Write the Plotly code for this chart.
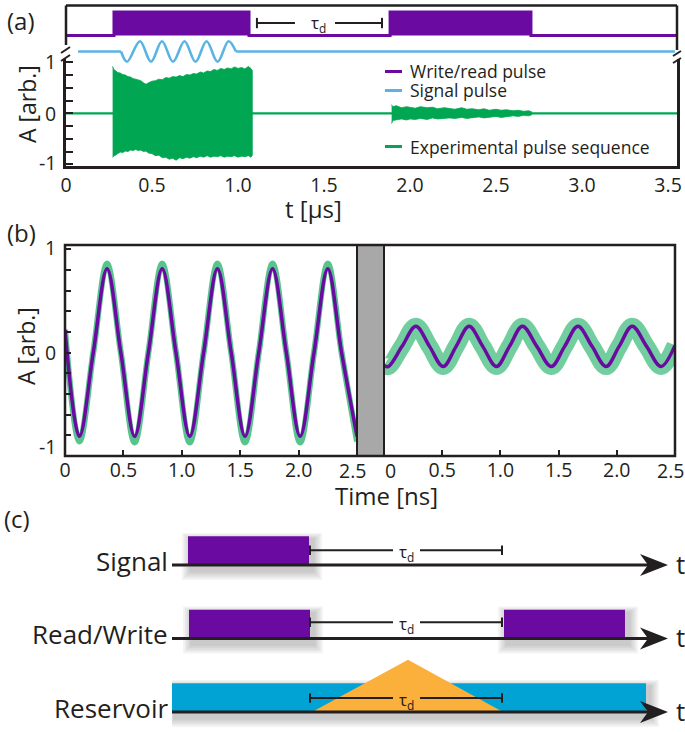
import plotly.graph_objects as go

W, H = 685, 732
FONT = "Open Sans"
INK = "#231f20"
PURPLE = "#6a0aa0"
GREEN = "#00a651"
SKY = "#5ab4e3"
CYAN = "#00a3d3"
ORANGE = "#fbb03b"
GREY = "#a8a8a8"


def px(x):
    return x / W


def py(y):
    return 1 - y / H


# ---------------- (a) data ----------------
wr_t = [0.0, 0.279, 1.064, 1.884, 2.703, 3.552]
wr_level = [0, 1, 0, 1, 0, 0]

sig_lead_t = [0.07, 0.320]
sig_lead_A = [0, 0]
sig_osc_t = [0.320, 0.355, 0.430, 0.494, 0.558, 0.622, 0.689, 0.753, 0.817, 0.881, 0.945, 0.988]
sig_osc_A = [0, -1, 1, -1, 1, -1, 1, -1, 1, -1, 1, 0]
sig_tail_t = [0.988, 3.54]
sig_tail_A = [0, 0]

base_t = [0.0, 3.552]
base_A = [0.0, 0.0]

burst1_t = [0.271, 0.278, 0.29, 0.30, 0.315, 0.33, 0.345, 0.36, 0.375, 0.39, 0.405, 0.42, 0.435, 0.45,
            0.465, 0.48, 0.50, 0.52, 0.54, 0.56, 0.58, 0.60, 0.62, 0.64, 0.66, 0.68, 0.70, 0.72,
            0.74, 0.76, 0.78, 0.80, 0.82, 0.84, 0.86, 0.88, 0.90, 0.92, 0.94, 0.96, 0.98, 1.00,
            1.02, 1.04, 1.06, 1.075, 1.083]
burst1_up = [0.92, 0.86, 0.83, 0.80, 0.79, 0.76, 0.75, 0.72, 0.71, 0.68, 0.67, 0.65, 0.64, 0.60,
             0.57, 0.60, 0.63, 0.64, 0.67, 0.66, 0.70, 0.69, 0.72, 0.71, 0.74, 0.72, 0.76, 0.75,
             0.78, 0.77, 0.81, 0.79, 0.83, 0.82, 0.86, 0.84, 0.88, 0.86, 0.89, 0.87, 0.91, 0.88,
             0.90, 0.87, 0.92, 0.88, 0.84]
burst1_lo = [-0.86, -0.84, -0.80, -0.79, -0.76, -0.77, -0.74, -0.75, -0.72, -0.73, -0.71, -0.73, -0.72,
             -0.75, -0.74, -0.78, -0.79, -0.83, -0.82, -0.87, -0.86, -0.90, -0.88, -0.92, -0.87,
             -0.89, -0.86, -0.88, -0.85, -0.87, -0.84, -0.86, -0.83, -0.86, -0.84, -0.85, -0.83,
             -0.86, -0.84, -0.85, -0.83, -0.86, -0.84, -0.85, -0.83, -0.86, -0.82]

burst2_t = [1.893, 1.90, 1.92, 1.95, 1.98, 2.0, 2.03, 2.06, 2.1, 2.13, 2.16, 2.2, 2.23, 2.26, 2.3,
            2.33, 2.36, 2.4, 2.43, 2.46, 2.5, 2.53, 2.56, 2.6, 2.63, 2.66, 2.69, 2.707]
burst2_up = [0.17, 0.13, 0.15, 0.11, 0.13, 0.12, 0.10, 0.13, 0.11, 0.12, 0.09, 0.11, 0.10, 0.08,
             0.11, 0.08, 0.09, 0.07, 0.09, 0.06, 0.08, 0.06, 0.07, 0.05, 0.06, 0.04, 0.05, 0.03]
burst2_lo = [-0.20, -0.14, -0.13, -0.11, -0.13, -0.11, -0.12, -0.10, -0.12, -0.09, -0.11, -0.10,
             -0.09, -0.10, -0.08, -0.10, -0.08, -0.07, -0.09, -0.07, -0.06, -0.08, -0.06, -0.05,
             -0.06, -0.04, -0.05, -0.03]

tau_a_span = [1.110, 1.837]
tau_a_gap = [1.331, 1.564]

a_xticks = [0, 0.5, 1.0, 1.5, 2.0, 2.5, 3.0, 3.5]
a_xticktext = ["0", "0.5", "1.0", "1.5", "2.0", "2.5", "3.0", "3.5"]
a_yticks = [-1, -0.75, -0.5, -0.25, 0, 0.25, 0.5, 0.75, 1]
a_ylabels = ["1", "0", "-1"]

# ---------------- (b) data ----------------
fit1_t = [0.0, 0.123, 0.242, 0.360, 0.478, 0.596, 0.714, 0.832, 0.950, 1.068, 1.187, 1.305,
          1.423, 1.541, 1.659, 1.777, 1.895, 2.013, 2.132, 2.250, 2.368, 2.5]
fit1_A = [0.22, -0.81, 0, 0.81, 0, -0.81, 0, 0.81, 0, -0.81, 0, 0.81,
          0, -0.81, 0, 0.81, 0, -0.81, 0, 0.81, 0, -0.81]
meas1_A = [0.22, -0.86, 0, 0.86, 0, -0.87, 0, 0.86, 0, -0.87, 0, 0.86,
           0, -0.87, 0, 0.86, 0, -0.87, 0, 0.86, 0, -0.86]

fit2_t = [0.0, 0.037, 0.155, 0.274, 0.391, 0.508, 0.620, 0.731, 0.848, 0.966, 1.078, 1.189,
          1.313, 1.437, 1.552, 1.666, 1.787, 1.908, 2.020, 2.132, 2.256, 2.380, 2.5]
fit2_A = [-0.125, -0.135, 0.06, 0.255, 0.06, -0.135, 0.06, 0.255, 0.06, -0.135, 0.06, 0.255,
          0.06, -0.135, 0.06, 0.255, 0.06, -0.135, 0.06, 0.255, 0.06, -0.135, 0.07]

b_xticks = [0, 0.5, 1.0, 1.5, 2.0, 2.5]
b_xticktext = ["0", "0.5", "1.0", "1.5", "2.0", "2.5"]
b_yticks = [-1, -0.8, -0.6, -0.4, -0.2, 0, 0.2, 0.4, 0.6, 0.8, 1]
b_ylabels = ["1", "0", "-1"]

# ---------------- (c) data ----------------
row_labels = ["Signal", "Read/Write", "Reservoir"]
row_y = [2, 1, 0]
signal_pulses = [(0.16, 1.37)]
rw_pulses = [(0.17, 1.38), (3.32, 4.53)]
reservoir_span = (0.0, 4.74)
tri_x = [1.40, 2.36, 3.31]
tri_y = [0.0, 0.71, 0.0]
tau_span = (1.38, 3.30)
tau_gap = (2.21, 2.48)
tau_level = [0.20, 0.22, 0.19]
pulse_h = 0.39
axis_end = 4.96

# schematic axis geometry (reference pixels)
C_X0, C_X1 = 172, 668
C_Y0, C_Y1 = 520, 730
C_XRANGE = [0, 4.96]
C_YRANGE = [-0.245, 2.612]


def cx(v):
    return px(C_X0 + (v - C_XRANGE[0]) / (C_XRANGE[1] - C_XRANGE[0]) * (C_X1 - C_X0))


def cy(v):
    return py(C_Y1 - (v - C_YRANGE[0]) / (C_YRANGE[1] - C_YRANGE[0]) * (C_Y1 - C_Y0))


fig = go.Figure()

# ---- (a) traces ----
fig.add_trace(go.Scatter(x=base_t, y=base_A, xaxis="x", yaxis="y", mode="lines",
                         line=dict(color=GREEN, width=2.2), hoverinfo="skip"))
for bt, bu, bl in [(burst1_t, burst1_up, burst1_lo), (burst2_t, burst2_up, burst2_lo)]:
    fig.add_trace(go.Scatter(x=bt + bt[::-1], y=bu + bl[::-1], xaxis="x", yaxis="y",
                             mode="lines", fill="toself", fillcolor=GREEN,
                             line=dict(color=GREEN, width=0.8), hoverinfo="skip"))
fig.add_trace(go.Scatter(x=wr_t, y=wr_level, xaxis="x", yaxis="y2", mode="lines",
                         line=dict(color=PURPLE, width=3, shape="hv"), fill="tozeroy",
                         fillcolor=PURPLE, hoverinfo="skip"))
for st, sa, shp in [(sig_lead_t, sig_lead_A, "linear"), (sig_osc_t, sig_osc_A, "spline"),
                    (sig_tail_t, sig_tail_A, "linear")]:
    fig.add_trace(go.Scatter(x=st, y=sa, xaxis="x", yaxis="y3", mode="lines",
                             line=dict(color=SKY, width=2.6, shape=shp), hoverinfo="skip"))

# ---- (b) traces ----
fig.add_trace(go.Scatter(x=fit1_t, y=meas1_A, xaxis="x2", yaxis="y4", mode="lines",
                         line=dict(color=GREEN, width=6, shape="spline"), opacity=0.65, hoverinfo="skip"))
fig.add_trace(go.Scatter(x=fit1_t, y=fit1_A, xaxis="x2", yaxis="y4", mode="lines",
                         line=dict(color=PURPLE, width=3.5, shape="spline"), hoverinfo="skip"))
fig.add_trace(go.Scatter(x=fit2_t, y=fit2_A, xaxis="x3", yaxis="y5", mode="lines",
                         line=dict(color=GREEN, width=17, shape="spline"), opacity=0.55, hoverinfo="skip"))
fig.add_trace(go.Scatter(x=fit2_t, y=fit2_A, xaxis="x3", yaxis="y5", mode="lines",
                         line=dict(color=PURPLE, width=3.5, shape="spline"), hoverinfo="skip"))

# ---- (c) row time axes ----
for r in row_y:
    fig.add_trace(go.Scatter(x=[0, axis_end - 0.18], y=[r, r], xaxis="x4", yaxis="y6", mode="lines",
                             line=dict(color=INK, width=3), hoverinfo="skip"))

shapes = []
LW = 2.5


def pline(x0, y0, x1, y1, w=LW):
    shapes.append(dict(type="line", xref="paper", yref="paper", x0=px(x0), y0=py(y0),
                       x1=px(x1), y1=py(y1), line=dict(color=INK, width=w)))


# (a) frame of the pulse diagram + axis breaks
TOP = 5.5
pline(66, TOP, 677, TOP)
pline(66, TOP, 66, 45)
pline(677, TOP, 677, 50)
pline(61, 53, 70, 47, 2)
pline(61, 61, 70, 55, 2)
pline(673, 56, 681, 51, 2)
pline(673, 63, 681, 58, 2)

# (a) tau_d bracket in data coordinates
tau_y = 0.53
for x0, x1 in [(tau_a_span[0], tau_a_gap[0]), (tau_a_gap[1], tau_a_span[1])]:
    shapes.append(dict(type="line", xref="x", yref="y2", x0=x0, x1=x1, y0=tau_y, y1=tau_y,
                       line=dict(color=INK, width=2)))
for xe in tau_a_span:
    shapes.append(dict(type="line", xref="x", yref="y2", x0=xe, x1=xe, y0=tau_y - 0.22, y1=tau_y + 0.22,
                       line=dict(color=INK, width=2)))

# (a) legend keys
for yk, col in [(71.5, PURPLE), (90.5, SKY), (146.5, GREEN)]:
    pline(385, yk, 402, yk, 3)
    shapes[-1]["line"]["color"] = col

# (b) frame and gap bar
shapes.append(dict(type="rect", xref="paper", yref="paper", x0=px(357), x1=px(384), y0=py(456), y1=py(245),
                   fillcolor=GREY, line=dict(color=INK, width=2)))
shapes.append(dict(type="rect", xref="paper", yref="paper", x0=px(65), x1=px(675), y0=py(456), y1=py(245),
                   line=dict(color=INK, width=LW)))

# (c) schematic
XS = 0.01          # x units per pixel
YS = 1 / 73.5      # y units per pixel


def shadow(x0, x1, y0, y1):
    for k in range(1, 6):
        e = k * 1.8
        shapes.append(dict(type="rect", xref="x4", yref="y6", layer="below",
                           x0=x0 + 3 * XS - e * XS, x1=x1 + 4 * XS + e * XS,
                           y0=y0 - 6 * YS - e * YS, y1=y1 - 3 * YS + e * YS * 0.7,
                           fillcolor="rgba(0,0,0,0.045)", line=dict(width=0)))


def rect(x0, x1, y0, y1, col):
    shapes.append(dict(type="rect", xref="x4", yref="y6", layer="below", x0=x0, x1=x1, y0=y0, y1=y1,
                       fillcolor=col, line=dict(width=0)))


for (a0, a1) in signal_pulses:
    shadow(a0, a1, row_y[0], row_y[0] + pulse_h)
for (a0, a1) in rw_pulses:
    shadow(a0, a1, row_y[1], row_y[1] + pulse_h)
shadow(reservoir_span[0], reservoir_span[1], row_y[2], row_y[2] + pulse_h)

for (a0, a1) in signal_pulses:
    rect(a0, a1, row_y[0], row_y[0] + pulse_h, PURPLE)
for (a0, a1) in rw_pulses:
    rect(a0, a1, row_y[1], row_y[1] + pulse_h, PURPLE)
rect(reservoir_span[0], reservoir_span[1], row_y[2], row_y[2] + pulse_h, CYAN)

tri_path = "M {},{} L {},{} L {},{} Z".format(tri_x[0], row_y[2] + tri_y[0], tri_x[1], row_y[2] + tri_y[1],
                                              tri_x[2], row_y[2] + tri_y[2])
shapes.append(dict(type="path", xref="x4", yref="y6", layer="below", path=tri_path,
                   fillcolor=ORANGE, line=dict(width=0)))

for r, hl in zip(row_y, tau_level):
    yb = r + hl
    for x0, x1 in [(tau_span[0], tau_gap[0]), (tau_gap[1], tau_span[1])]:
        shapes.append(dict(type="line", xref="x4", yref="y6", x0=x0, x1=x1, y0=yb, y1=yb,
                           line=dict(color=INK, width=2)))
    for xe in tau_span:
        shapes.append(dict(type="line", xref="x4", yref="y6", x0=xe, x1=xe, y0=yb - 0.065, y1=yb + 0.065,
                           line=dict(color=INK, width=2)))
    head = "M {},{} L {},{} L {},{} L {},{} Z".format(
        axis_end, r, axis_end - 0.28, r + 0.15, axis_end - 0.20, r, axis_end - 0.28, r - 0.15)
    shapes.append(dict(type="path", xref="x4", yref="y6", path=head, fillcolor=INK, line=dict(width=0)))

annotations = []


def ann(text, x, y, size, **kw):
    d = dict(text=text, xref="paper", yref="paper", x=px(x), y=py(y), showarrow=False,
             font=dict(family=FONT, size=size, color=INK), xanchor="center", yanchor="middle")
    d.update(kw)
    annotations.append(d)


ann("(a)", 21, 21, 24)
ann("(b)", 21, 232, 24)
ann("(c)", 17, 518, 24)
ann("A [arb.]", 27, 104, 23, textangle=-90)
ann("A [arb.]", 26, 346, 23, textangle=-90)
ann("t [µs]", 313, 208, 24)
ann("Time [ns]", 386, 495, 24)
ann("Write/read pulse", 408, 71.5, 17.5, xanchor="left")
ann("Signal pulse", 408, 90.5, 17.5, xanchor="left")
ann("Experimental pulse sequence", 408, 146.5, 17.5, xanchor="left")

# y tick labels placed as in the reference
for lab, yv in zip(a_ylabels, [62, 113, 162]):
    ann(lab, 58, yv, 19.5, xanchor="right")
for lab, yv in zip(b_ylabels, [247, 353, 446]):
    ann(lab, 58, yv, 19.5, xanchor="right")
# x tick labels at the panel joins, nudged apart as in the reference
ann(b_xticktext[-1], 352, 470, 19.5)
ann(b_xticktext[0], 390, 470, 19.5)
ann(b_xticktext[-1], 686, 470, 19.5, xanchor="right")

annotations.append(dict(text="τ<sub>d</sub>", xref="x", yref="y2", x=1.465, y=0.5, showarrow=False,
                        font=dict(family=FONT, size=17, color=INK)))
for lab, r, hl in zip(row_labels, row_y, tau_level):
    annotations.append(dict(text=lab, xref="paper", yref="paper", x=cx(-0.02), y=cy(r + 0.06),
                            showarrow=False, xanchor="right", yanchor="middle",
                            font=dict(family=FONT, size=26, color=INK)))
    annotations.append(dict(text="t", xref="paper", yref="paper", x=px(680), y=cy(r + 0.02),
                            showarrow=False, xanchor="center", yanchor="middle",
                            font=dict(family=FONT, size=26, color=INK)))
    annotations.append(dict(text="τ<sub>d</sub>", xref="x4", yref="y6", x=sum(tau_gap) / 2, y=r + hl - 0.03,
                            showarrow=False, font=dict(family=FONT, size=17, color=INK)))

common = dict(showgrid=False, zeroline=False, fixedrange=True, automargin=False)
tickf = dict(family=FONT, size=19.5, color=INK)
blank = " "

fig.update_layout(
    width=W, height=H, margin=dict(l=0, r=0, t=0, b=0, autoexpand=False),
    paper_bgcolor="white", plot_bgcolor="rgba(0,0,0,0)", showlegend=False,
    font=dict(family=FONT, color=INK),
    xaxis=dict(domain=[px(66), px(677)], range=[0, 3.552], anchor="y", showline=True, linewidth=LW,
               linecolor=INK, ticks="", tickvals=a_xticks, ticktext=a_xticktext, tickfont=tickf, **common),
    yaxis=dict(domain=[py(166), py(59)], range=[-1.033, 1.065], anchor="x", showline=True, mirror=True,
               linewidth=LW, linecolor=INK, ticks="inside", ticklen=7, tickwidth=1.5, tickcolor=INK,
               tickvals=a_yticks, showticklabels=False, **common),
    yaxis2=dict(domain=[py(40), py(5)], range=[-0.191, 1.298], anchor="x", visible=False, **common),
    yaxis3=dict(domain=[py(66), py(38)], range=[-1.408, 1.31], anchor="x", visible=False, **common),
    xaxis2=dict(domain=[px(65), px(357)], range=[0, 2.5], anchor="y4", showline=False, ticks="inside",
                ticklen=6, tickwidth=1.5, tickcolor=INK, tickvals=b_xticks,
                ticktext=b_xticktext[:-1] + [blank], tickfont=tickf, **common),
    xaxis3=dict(domain=[px(384), px(675)], range=[0, 2.5], anchor="y5", showline=False, ticks="inside",
                ticklen=6, tickwidth=1.5, tickcolor=INK, tickvals=b_xticks,
                ticktext=[blank] + b_xticktext[1:-1] + [blank], tickfont=tickf, **common),
    yaxis4=dict(domain=[py(456), py(245)], range=[-1.0, 1.04], anchor="x2", showline=False, ticks="inside",
                ticklen=6, tickwidth=1.5, tickcolor=INK, tickvals=b_yticks, showticklabels=False, **common),
    yaxis5=dict(domain=[py(456), py(245)], range=[-1.0, 1.04], anchor="x3", visible=False, **common),
    xaxis4=dict(domain=[px(C_X0), px(C_X1)], range=C_XRANGE, anchor="y6", visible=False, **common),
    yaxis6=dict(domain=[py(C_Y1), py(C_Y0)], range=C_YRANGE, anchor="x4", visible=False, **common),
    shapes=shapes, annotations=annotations,
)

# the page's default 8 px body margin would push the figure out of the window
fig.write_html("out.html", config={"displayModeBar": False},
               post_script="document.body.style.margin='0px';document.body.style.overflow='hidden';")
